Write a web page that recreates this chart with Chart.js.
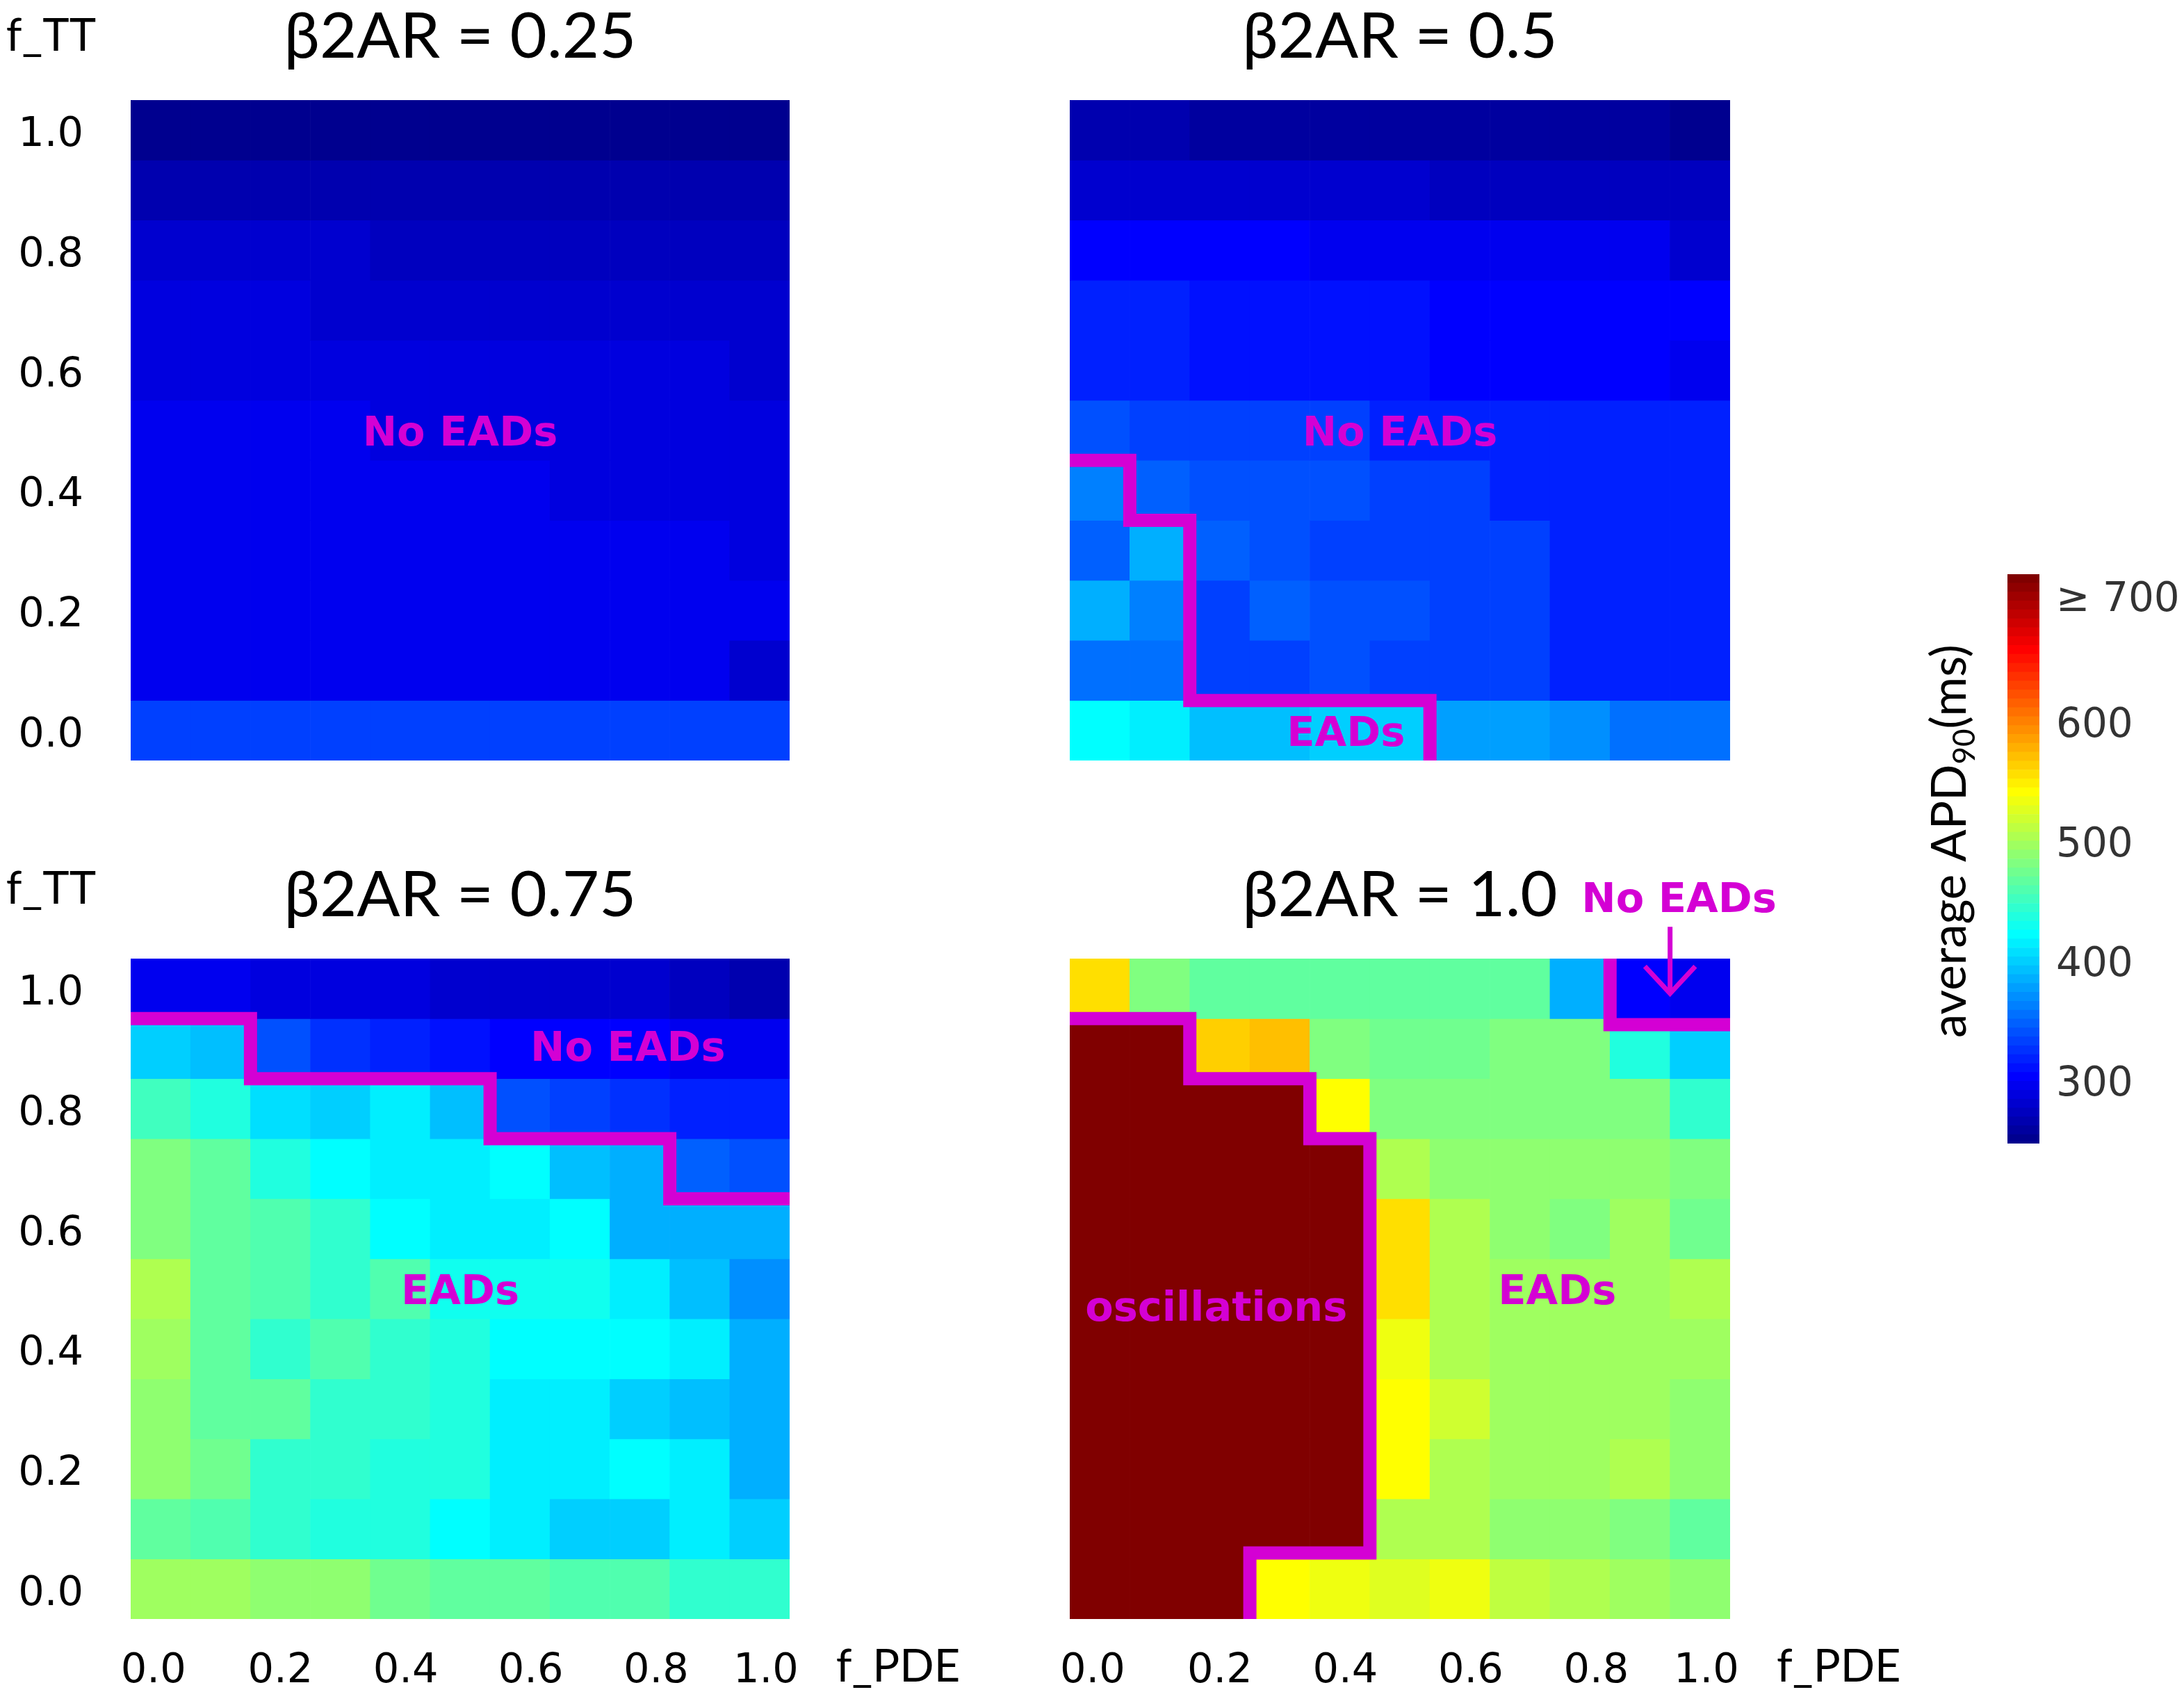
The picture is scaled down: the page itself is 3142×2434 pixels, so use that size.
<!DOCTYPE html>
<html><head><meta charset="utf-8">
<style>
html,body{margin:0;padding:0;background:#fff;width:3142px;height:2434px;overflow:hidden}
canvas{position:absolute;display:block}
</style>
<script src="https://cdn.jsdelivr.net/npm/chart.js@4"></script>
</head><body>
<canvas id="c1" width="1420" height="1199" style="left:0;top:0"></canvas>
<canvas id="c2" width="1340" height="1199" style="left:1400px;top:0"></canvas>
<canvas id="c3" width="1400" height="1199" style="left:0;top:1235px"></canvas>
<canvas id="c4" width="1340" height="1199" style="left:1400px;top:1235px"></canvas>
<canvas id="c5" width="402" height="880" style="left:2740px;top:800px"></canvas>
<script>
const xValues=[0,0.1,0.2,0.3,0.4,0.5,0.6,0.7,0.8,0.9,1];
const yValues=[1,0.9,0.8,0.7,0.6,0.5,0.4,0.3,0.2,0.1,0];
const axisTickValues=[0,0.2,0.4,0.6,0.8,1];
const colorbarTicks=[300,400,500,600,700];

// average APD90 (ms); rows run from f_TT = 1.0 down to f_TT = 0.0
const apd025=[
[250,250,250,250,250,250,250,250,250,250,250],
[263,263,263,263,263,263,263,263,263,263,263],
[280,280,280,280,273,273,273,273,273,273,273],
[287,287,287,280,280,280,280,280,280,280,280],
[287,287,287,287,287,287,287,287,287,287,280],
[295,295,295,295,288,288,288,288,288,288,288],
[295,295,295,295,295,295,295,288,288,288,288],
[295,295,295,295,295,295,295,295,295,295,288],
[295,295,295,295,295,295,295,295,295,295,295],
[295,295,295,295,295,295,295,295,295,295,280],
[329,329,329,329,329,329,329,329,329,329,329]];
const apd050=[
[262,262,258,258,258,258,258,258,258,258,251],
[280,280,280,280,280,280,275,275,275,275,275],
[306,306,306,306,298,298,298,298,298,298,282],
[317,317,312,312,312,312,305,305,305,305,305],
[317,317,312,312,312,312,305,305,305,305,298],
[343,335,335,329,329,321,321,321,314,314,314],
[365,351,343,340,340,329,329,321,321,321,314],
[351,381,351,343,335,335,329,329,321,321,321],
[386,365,335,351,343,340,329,329,321,321,321],
[358,358,335,329,343,335,329,329,321,321,321],
[425,418,395,395,402,402,374,374,366,358,353]];
const apd075=[
[298,298,288,288,288,281,281,281,281,276,262],
[400,395,339,325,321,309,304,304,304,298,298],
[449,435,409,402,411,390,341,334,327,321,321],
[479,465,435,421,411,411,421,395,381,351,337],
[479,465,456,444,425,418,411,421,386,386,386],
[505,470,456,442,456,430,428,428,411,393,372],
[495,467,444,456,442,437,421,421,421,411,386],
[488,470,463,446,444,437,418,418,397,393,384],
[488,472,446,446,437,437,418,418,425,411,386],
[465,458,444,440,440,425,416,402,397,411,402],
[493,493,486,486,472,465,465,456,456,444,442]];
const apd100=[
[554,481,470,463,463,463,463,470,388,305,298],
[723,723,563,570,479,472,472,479,479,440,402],
[723,723,723,723,540,484,484,479,479,484,444],
[723,723,723,723,723,507,488,486,486,486,479],
[723,723,723,723,723,556,502,488,484,493,474],
[723,723,723,723,723,556,502,493,493,493,505],
[723,723,723,723,723,535,500,495,495,495,495],
[723,723,723,723,723,544,521,495,495,495,488],
[723,723,723,723,723,544,505,495,495,505,488],
[723,723,723,723,723,502,502,488,488,484,465],
[723,723,723,544,535,524,530,514,507,493,486]];

// region boundaries, in f_PDE / f_TT coordinates
const edge050=[[-0.05,0.45],[0.05,0.45],[0.05,0.35],[0.15,0.35],[0.15,0.05],[0.55,0.05],[0.55,-0.05]];
const edge075=[[-0.05,0.95],[0.15,0.95],[0.15,0.85],[0.55,0.85],[0.55,0.75],[0.85,0.75],[0.85,0.65],[1.05,0.65]];
const edge100a=[[-0.05,0.95],[0.15,0.95],[0.15,0.85],[0.35,0.85],[0.35,0.75],[0.45,0.75],[0.45,0.06],[0.25,0.06],[0.25,-0.05]];
const edge100b=[[0.85,1.05],[0.85,0.94],[1.05,0.94]];
const arrowShaft=[[0.95,1.103],[0.95,0.992]];
const arrowHead=[[0.908,1.037],[0.95,0.992],[0.992,1.037]];

const MAGENTA='#d400d4';
const VMIN=247,VMAX=723,LEVELS=64;
const SANS='"DejaVu Sans"';
const clamp=t=>Math.max(0,Math.min(1,t));
function jet(f){
  const r=clamp(Math.min(4*f-1.5,-4*f+4.5)),g=clamp(Math.min(4*f-.5,-4*f+3.5)),b=clamp(Math.min(4*f+.5,-4*f+2.5));
  return `rgb(${Math.round(r*255)},${Math.round(g*255)},${Math.round(b*255)})`;
}
const levelColor=i=>jet((i+1)/LEVELS);
function colorOf(v){
  const i=Math.floor((v-VMIN)/(VMAX-VMIN)*LEVELS);
  return levelColor(Math.max(0,Math.min(LEVELS-1,i)));
}
const notesPlugin={
  id:'notes',
  afterDatasetsDraw(chart,_a,opts){
    const {ctx,scales:{x,y}}=chart;
    ctx.save();
    ctx.textAlign='center';ctx.textBaseline='middle';
    for(const n of (opts.items||[])){
      ctx.font=n.font;ctx.fillStyle=n.color;
      ctx.fillText(n.text,x.getPixelForValue(n.x),y.getPixelForValue(n.y));
    }
    ctx.restore();
  }
};
const note=(text,x,y)=>({text,x,y,font:`bold 59px ${SANS}`,color:MAGENTA});
const axisNote=(text,x,y)=>({text,x,y,font:'65px Lato',color:'#000'});
const lineSet=(pts,width,clip)=>({type:'line',data:pts.map(p=>({x:p[0],y:p[1]})),borderColor:MAGENTA,borderWidth:width,
  pointRadius:0,tension:0,fill:false,clip,order:-1,borderJoinStyle:'miter',borderCapStyle:'butt'});

const X_LABEL_SHIFT=[-0.012,0,0.009,0.018,0.027,0.0105];
const Y_LABEL_SHIFT=-0.009;
const BAR_LABEL_SHIFT=[-4,-4,-4,-4,1];
const noPad=s=>{s.paddingLeft=0;s.paddingRight=0;s.paddingTop=0;s.paddingBottom=0;};
function panel(id,cfg){
  const rows=cfg.values.map((vals,r)=>({
    type:'bar',grouped:false,borderWidth:0,categoryPercentage:1,barPercentage:1,
    data:vals.map((v,c)=>({x:xValues[c],y:[+(yValues[r]-0.05).toFixed(2),+(yValues[r]+0.05).toFixed(2)]})),
    backgroundColor:vals.map(colorOf)
  }));
  const lines=(cfg.edges||[]).map(e=>lineSet(e,19,0)).concat((cfg.arrows||[]).map(e=>lineSet(e,7,false)));
  const items=cfg.notes.slice();
  if(cfg.showY) items.push(axisNote('f_TT',-0.183,cfg.ttY));
  if(cfg.showX) items.push(axisNote('f_PDE',1.231,-0.130));
  return new Chart(document.getElementById(id),{
    type:'bar',
    data:{datasets:[...lines,...rows]},
    plugins:[notesPlugin],
    options:{
      responsive:false,animation:false,devicePixelRatio:1,events:[],
      layout:{padding:{left:cfg.padL,right:cfg.padR,top:0,bottom:cfg.showX?0:105}},
      plugins:{
        legend:{display:false},tooltip:{enabled:false},
        notes:{items},
        title:{display:true,text:cfg.title,fullSize:false,color:'#000',
          font:{family:'Lato',size:92,weight:'normal',lineHeight:1},padding:{top:7,bottom:45}}
      },
      scales:{
        x:{type:'linear',offset:false,min:-0.05,max:1.05,display:cfg.showX,
          grid:{display:false,offset:false},border:{display:false},
          afterBuildTicks(s){s.ticks=axisTickValues.map((v,i)=>({value:v+X_LABEL_SHIFT[i]}));},
          afterFit(s){noPad(s);s.height=cfg.showX?105:0;},
          ticks:{autoSkip:false,maxRotation:0,padding:32,color:'#000',font:{family:SANS,size:59},
            callback:(v,i)=>axisTickValues[i].toFixed(1)}},
        y:{type:'linear',offset:false,min:-0.05,max:1.05,display:cfg.showY,
          grid:{display:false},border:{display:false},
          afterBuildTicks(s){s.ticks=axisTickValues.map(v=>({value:v+Y_LABEL_SHIFT}));},
          afterFit(s){noPad(s);s.width=cfg.showY?188:0;},
          ticks:{autoSkip:false,padding:60,color:'#000',font:{family:SANS,size:59},
            callback:(v,i)=>axisTickValues[i].toFixed(1)}}
      }
    }
  });
}
panel('c1',{title:'β2AR = 0.25',values:apd025,showY:true,showX:false,padL:0,padR:284,ttY:1.157,
  notes:[note('No EADs',0.5,0.492)]});
panel('c2',{title:'β2AR = 0.5',values:apd050,showY:false,showX:false,padL:139,padR:251,edges:[edge050],
  notes:[note('No EADs',0.5,0.492),note('EADs',0.41,-0.008)]});
panel('c3',{title:'β2AR = 0.75',values:apd075,showY:true,showX:true,padL:0,padR:264,edges:[edge075],ttY:1.166,
  notes:[note('No EADs',0.78,0.897),note('EADs',0.5,0.492)]});
panel('c4',{title:'β2AR = 1.0',values:apd100,showY:false,showX:true,padL:139,padR:251,edges:[edge100a,edge100b],
  arrows:[arrowShaft,arrowHead],
  notes:[note('No EADs',0.965,1.145),note('oscillations',0.194,0.465),note('EADs',0.762,0.492)]});

// colour bar
const bands=[];
for(let i=0;i<LEVELS;i++){
  const lo=VMIN+(VMAX-VMIN)*i/LEVELS,hi=VMIN+(VMAX-VMIN)*(i+1)/LEVELS;
  bands.push({grouped:false,borderWidth:0,categoryPercentage:1,barPercentage:1,data:[[lo,hi]],backgroundColor:levelColor(i)});
}
const barTitle={id:'barTitle',afterDraw(chart){
  const {ctx}=chart;ctx.save();
  ctx.translate(88,410);ctx.rotate(-Math.PI/2);
  ctx.textBaseline='alphabetic';ctx.textAlign='left';ctx.fillStyle='#000';
  const big='69px Lato',small='44px Lato';
  const a='average APD',b='90',c='(ms)';
  ctx.font=big;const wa=ctx.measureText(a).width,wc=ctx.measureText(c).width;
  ctx.font=small;const wb=ctx.measureText(b).width;
  let px=-(wa+wb+wc)/2;
  ctx.font=big;ctx.fillText(a,px,0);px+=wa;
  ctx.font=small;ctx.fillText(b,px,13);px+=wb;
  ctx.font=big;ctx.fillText(c,px,0);
  ctx.restore();
}};
new Chart(document.getElementById('c5'),{
  type:'bar',
  data:{labels:['APD90'],datasets:bands},
  plugins:[barTitle],
  options:{
    responsive:false,animation:false,devicePixelRatio:1,events:[],
    layout:{padding:{left:148,right:0,top:26,bottom:35}},
    plugins:{legend:{display:false},tooltip:{enabled:false}},
    scales:{
      x:{display:false,afterFit(s){s.height=0;noPad(s);}},
      y:{position:'right',min:VMIN,max:VMAX,grid:{display:false},border:{display:false},
        afterBuildTicks(s){s.ticks=colorbarTicks.map((v,i)=>({value:v+BAR_LABEL_SHIFT[i]}));},
        afterFit(s){noPad(s);s.width=208;},
        ticks:{autoSkip:false,padding:16,color:'#333',font:{family:SANS,size:58},
          callback:(v,i)=>i===4?'≥ 700':String(colorbarTicks[i])}}
    }
  }
});
</script>
</body></html>
